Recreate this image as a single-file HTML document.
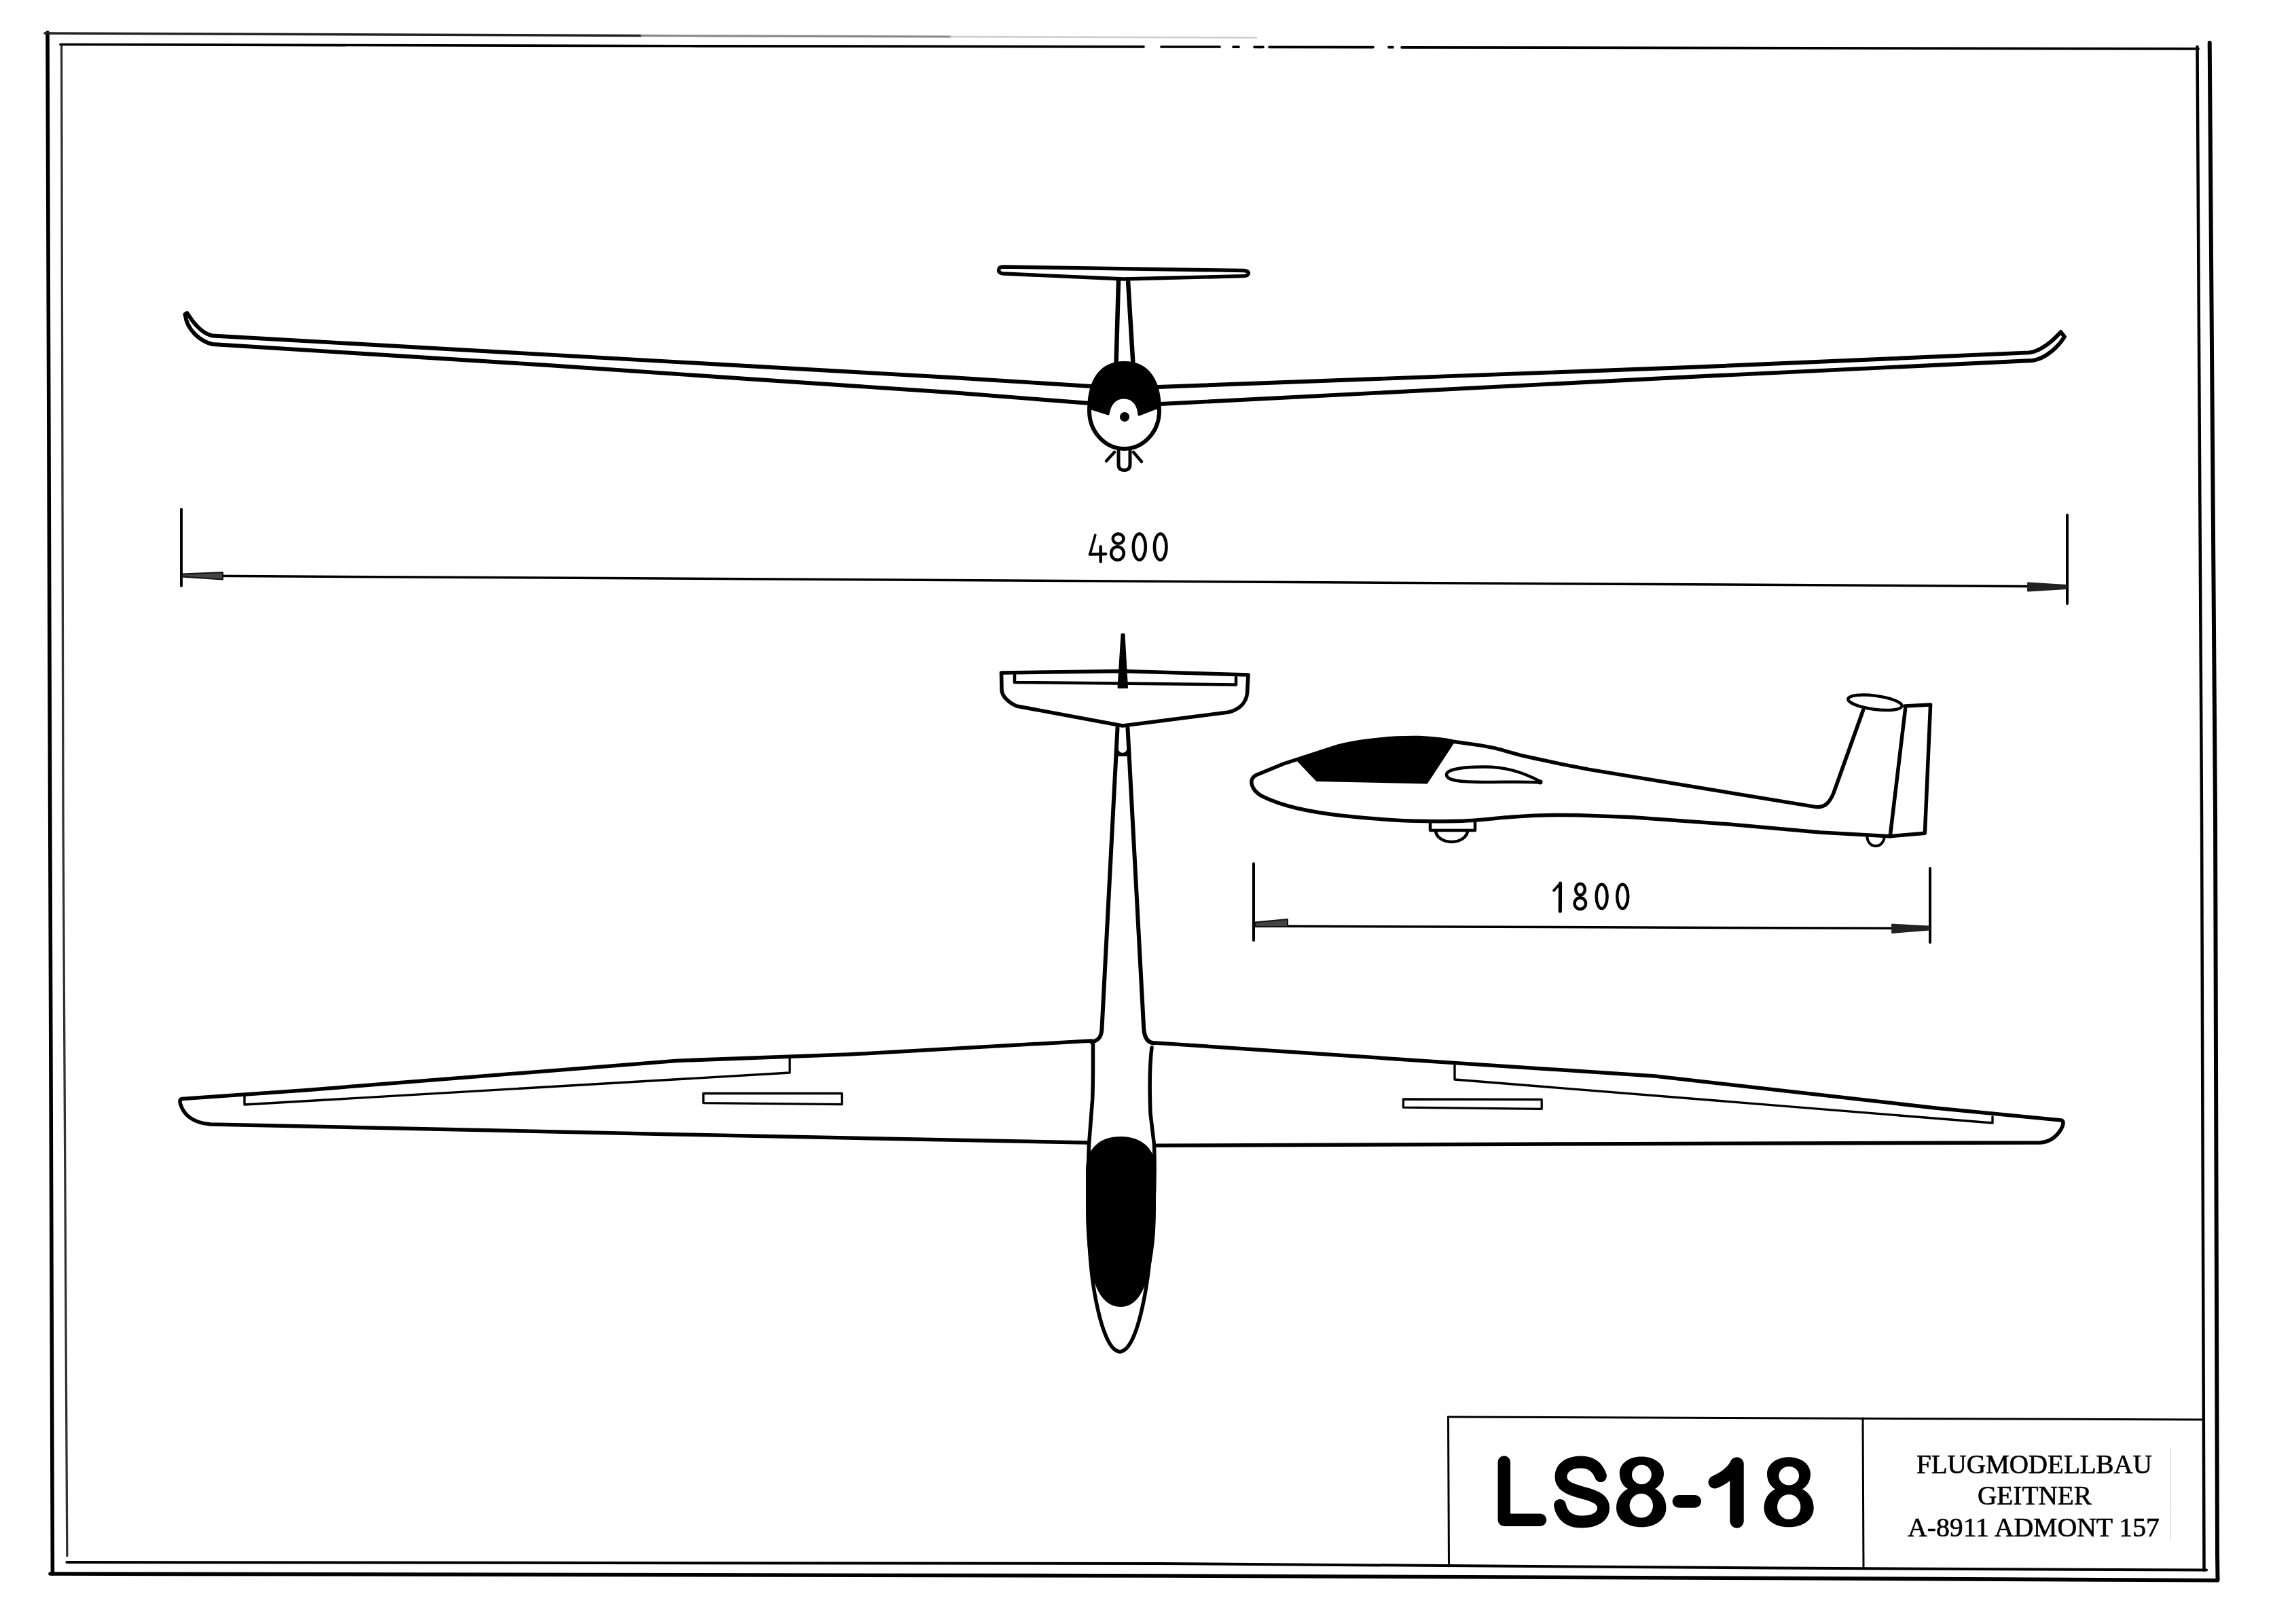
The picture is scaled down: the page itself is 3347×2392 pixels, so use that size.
<!DOCTYPE html>
<html>
<head>
<meta charset="utf-8">
<title>LS8-18</title>
<style>
html,body{margin:0;padding:0;background:#fff;}
body{width:3347px;height:2392px;overflow:hidden;}
svg{display:block;}
</style>
</head>
<body>
<svg width="3347" height="2392" viewBox="0 0 3347 2392">
<defs><filter id="gaa"><feOffset dx="0" dy="0"/></filter></defs>
<rect x="0" y="0" width="3347" height="2392" fill="#fff"/>
<g fill="none" stroke="#000" stroke-linejoin="round" stroke-linecap="round">

<!-- ===== FRAME ===== -->
<g id="frame">
<path d="M70,48 L73.7,1200 L77.4,2318" stroke-width="5.6"/>
<path d="M66,49 L945,52.4" stroke-width="3.5" stroke="#222"/>
<path d="M945,52.4 L1030,52.8 L1400,54" stroke-width="3.2" stroke="#888"/>
<path d="M1400,54 L1850,55.5" stroke-width="2.5" stroke="#ccc"/>
<path d="M3253.7,63 L3262,1200 L3265,2290 L3265.5,2326" stroke-width="6"/>
<path d="M74,2318 L1710,2321 L2610,2324.5 L3265.5,2327.7" stroke-width="5.6"/>
<path d="M90.6,66 L93,1200 L98.8,2291.5" stroke-width="3.3" stroke="#333"/>
<path d="M89,65.5 L1030,67.8 L1684,68.8 M1710,69 L1796,69 M1816,69.2 L1824,69.2 M1847,69.3 L1860,69.3 M1869,69.4 L2022,69.6 M2045,69.7 L2051,69.7 M2064,69.8 L3237,71.9" stroke-width="3.7"/>
<path d="M3235.5,69 L3242,1200 L3245.5,2312.6" stroke-width="4.5"/>
<path d="M98.4,2301 L1710,2303 L2610,2309.6 L3249,2312.6" stroke-width="4"/>
</g>

<!-- ===== TITLE BLOCK ===== -->
<g id="title">
<path d="M2132.5,2087 L2133.5,2307" stroke-width="3"/>
<path d="M2132.5,2087 L3245,2091" stroke-width="3"/>
<path d="M2743,2089 L2744,2309" stroke-width="3"/>
<path d="M3196,2133 L3196.2,2268" stroke-width="1.2" stroke="#d4d4d4" stroke-linecap="butt"/>
</g>

<!-- ===== FRONT VIEW ===== -->
<g id="front" stroke-width="5.5">
<!-- horizontal stabilizer -->
<path d="M1477,393 L1832,398.5 Q1839,399.5 1838.5,402.5 Q1838,406.3 1831,406.6 L1655,411 L1477,403 Q1470.5,402 1470.5,398 Q1471,393 1477,393 Z" stroke-width="5.4"/>
<!-- fin -->
<path d="M1647,413 L1643.5,537" stroke-width="6.5"/>
<path d="M1661,413 L1668.5,537" stroke-width="6.5"/>
<!-- left wing -->
<path d="M1607,569 L1400,556 L313,494.5 C300,492 288,481 275.5,461 L272.5,463 C275,486 295,503 313,507 L800,537.5 L1100,558 L1400,578 L1605,594" stroke-width="5.9"/>
<!-- right wing -->
<path d="M1705,570 L2500,540.5 L2988,519.4 C3005,517 3020,505 3034.5,489 L3040,496 C3030,512 3012,528 2993,531 L2500,554.5 L1709,595" stroke-width="5.9"/>
<!-- fuselage -->
<path d="M1604,605 C1604,560 1622,535 1655.5,535 C1689,535 1707,560 1707,605 A51.5 56 0 0 1 1604,605 Z" stroke-width="6"/>
<path d="M1604,605 C1604,560 1622,535 1655.5,535 C1689,535 1707,560 1707,605 L1703,601 L1677,611 C1676,598 1670,586 1655,586 C1640,586 1634,598 1632,610 L1607,602 Z" fill="#000" stroke-width="3"/>
<circle cx="1656" cy="614" r="7" fill="#000" stroke="none"/>
<!-- wheel -->
<path d="M1647,664 L1647,684 Q1647,692.5 1655.5,692.5 Q1664,692.5 1664,684 L1664,664" stroke-width="5"/>
<path d="M1641,666 L1629,679 M1669,666 L1681,680" stroke-width="4.5"/>
</g>

<!-- ===== DIMENSION 4800 ===== -->
<g id="dim1">
<path d="M267,750 L267,863" stroke-width="4"/>
<path d="M3044,758.5 L3044,889" stroke-width="4"/>
<path d="M267,848 L3044,864" stroke-width="3.5"/>
<path d="M268,845.5 L328,843 L328,853.5 L268,849.5 Z" fill="#444" stroke="#111" stroke-width="2"/>
<path d="M2986,858.5 L3043,862 L3043,867 L2986,870.5 Z" fill="#222" stroke="#222" stroke-width="1.8"/>
<g stroke-width="4.5">
<path d="M1612.8,788 L1604.9,816.5" stroke-width="3.6"/>
<path d="M1604.9,816.5 L1628.2,815.9 M1620.7,805.3 L1620.7,826.9"/>
<ellipse cx="1646.6" cy="793.5" rx="7.9" ry="7.3"/>
<ellipse cx="1645.5" cy="815" rx="9.3" ry="9.8"/>
<ellipse cx="1677.8" cy="805.5" rx="9" ry="19.3"/>
<ellipse cx="1708.7" cy="805.5" rx="8.8" ry="19.3"/>
</g>
</g>

<!-- ===== TOP VIEW ===== -->
<g id="top" stroke-width="5.5">
<!-- horizontal tail -->
<path d="M1474.5,991 L1652,988.5 L1838,994 L1836.5,1021 C1835,1035 1825,1045 1809,1049 L1653,1069 L1497,1040 C1485,1035 1475,1025 1475,1015.6 Z" stroke-width="5.6"/>
<path d="M1494,994 L1494,1005 L1820,1008.4 L1820,997.6" stroke-width="4.5"/>
<path d="M1652,934.5 L1655,934.5 L1659.5,1012.5 L1647,1012.5 Z" fill="#000" stroke-width="3"/>
<!-- boom -->
<path d="M1645.5,1072 L1622.5,1515 C1622,1528 1617,1533.5 1607,1534.5" stroke-width="6"/>
<path d="M1660.5,1072 L1684.2,1515 C1685,1528 1690,1535.5 1699,1536.5" stroke-width="6"/>
<path d="M1646,1098 L1646,1114 L1660,1114 L1660,1098 Q1660,1109 1653,1109 Q1646,1109 1646,1098 Z" fill="#000" stroke="none"/>
<!-- left wing -->
<path d="M1607,1533 L1250,1553 L995,1562.4 L450,1605.7 L268,1618.5 C265,1619 264,1622 266,1627 C270,1640 282,1654 310,1656 L1000,1671 L1601,1683"/>
<path d="M1163,1559 L1163,1580 L360,1627 L360,1615" stroke-width="3.4"/>
<path d="M1035.8,1610.3 L1239.6,1610.5 L1239.6,1626.7 L1035.8,1624.6 Z" stroke-width="3.3"/>
<!-- right wing -->
<path d="M1700,1536 L2050,1559.4 L2437,1585 L2850,1632 L3035,1650 C3040,1651 3038,1658 3035,1663 C3028,1675 3018,1682 3004,1683 L2400,1684.7 L1701,1687.3"/>
<path d="M2142,1569 L2142,1590 L2934,1654 L2934,1645" stroke-width="3.4"/>
<path d="M2066.4,1619 L2270.2,1619.5 L2270.2,1633.3 L2066.4,1631.2 Z" stroke-width="3.3"/>
<!-- fuselage -->
<path d="M1609.4,1537 C1609.6,1570 1609.6,1600 1608.6,1620 L1603.5,1686 C1600,1760 1602,1850 1612,1906 C1620,1950 1632,1990 1649,1991 C1666,1990 1678,1950 1686,1906 C1696,1850 1702,1760 1699.5,1686 L1694,1640 C1692.5,1600 1692.5,1570 1696,1543" stroke-width="5.5"/>
<path d="M1600,1725 C1600,1690 1622,1675 1650,1675 C1678,1675 1701,1690 1701,1725 L1701,1780 C1701,1830 1694,1870 1684,1895 C1676,1915 1664,1924 1650,1924 C1636,1924 1623,1915 1615,1895 C1606,1870 1600,1830 1600,1780 Z" fill="#000" stroke-width="2"/>
</g>

<!-- ===== SIDE VIEW ===== -->
<g id="side" stroke-width="5.5">
<!-- canopy -->
<path d="M1909.5,1118.5 L1970,1099.2 C1976,1097.5 1982,1096 1990,1094.7 C2000,1092.6 2010,1091 2030,1089.2 C2050,1087 2070,1086.3 2090,1086.6 C2118,1088 2130,1090 2141,1092 L2101,1153 L1939,1149.5 Z" fill="#000" stroke-width="3"/>
<!-- fuselage outline -->
<path d="M2743.5,1046 L2700,1168 C2694,1182 2688,1189.5 2674.4,1188.6 L2340,1133.4 L2300,1125.6 L2260,1117 L2240,1112.6 L2220,1107.1 C2210,1104 2205,1102.8 2200,1101.6 L2180,1097.9 L2140,1092.3 C2130,1090 2118,1088 2090,1086.6 C2070,1086.3 2050,1087 2030,1089.2 C2010,1091 2000,1092.6 1990,1094.7 C1982,1096 1976,1097.5 1970,1099.2 L1890,1125 L1850,1141.5 C1843,1145 1842,1151 1843.5,1156 C1845,1162 1850,1168 1858,1172.5 C1875,1181 1895,1187 1910,1190.5 C1930,1195 1950,1198.5 1975,1201.2 C2010,1205 2060,1209 2100,1209.6 C2140,1210 2160,1209.5 2180,1207.5 C2200,1205.5 2215,1204 2230,1203 C2250,1201.5 2265,1200.8 2290,1200.6 C2310,1200.5 2330,1200.8 2350,1201.8 L2400,1203.6 L2546,1214 L2680,1226 L2783,1231.7"/>
<!-- fin -->
<ellipse cx="2761" cy="1034.8" rx="40" ry="10" transform="rotate(7.5 2761 1034.8)" stroke-width="4.5"/>
<path d="M2805,1040 L2842.6,1038 L2834.4,1227.2 L2783,1231.7 M2805.6,1044 L2783.4,1230.2" stroke-width="5.5"/>
<!-- wing root airfoil -->
<path d="M2268,1151 C2240,1136 2215,1129.5 2185,1129.5 C2155,1129.5 2130,1133 2130,1141 C2130,1150 2150,1152 2185,1152 C2220,1152 2245,1151 2268,1152.5 Z" stroke-width="4.5"/>
<circle cx="2268" cy="1152" r="3.5" fill="#000" stroke="none"/>
<!-- main wheel -->
<path d="M2106,1211 L2106,1223 L2172,1223 L2172,1211" stroke-width="4.5"/>
<path d="M2114,1223 A23.5 17 0 0 0 2161,1223" stroke-width="4.5"/>
<!-- tail wheel -->
<path d="M2749.5,1232.5 A12.5 13.5 0 0 0 2774.5,1232.5" stroke-width="4"/>
</g>

<!-- ===== DIMENSION 1800 ===== -->
<g id="dim2">
<path d="M1846,1272 L1846,1385" stroke-width="4"/>
<path d="M2842,1279 L2842,1388" stroke-width="4"/>
<path d="M1846,1364 L2842,1367.5" stroke-width="3.5"/>
<path d="M1848,1358.5 L1896,1354 L1896,1365 L1848,1365 Z" fill="#444" stroke="#111" stroke-width="2"/>
<path d="M2786,1361.5 L2841,1364.5 L2841,1369.5 L2786,1374 Z" fill="#222" stroke="#222" stroke-width="1.8"/>
<g stroke-width="4.5">
<path d="M2288,1311.7 L2297.5,1301" stroke-width="3.6"/>
<path d="M2297.5,1301 L2297.3,1342" stroke-width="5.2"/>
<ellipse cx="2327" cy="1310" rx="6.8" ry="8.3"/>
<ellipse cx="2326.8" cy="1330.7" rx="8.3" ry="8.4"/>
<ellipse cx="2358.6" cy="1320.3" rx="8" ry="17.8"/>
<ellipse cx="2389.2" cy="1320.3" rx="8" ry="17.8"/>
</g>
</g>
</g>

<!-- ===== TEXT ===== -->
<g id="ls818" fill="none" stroke="#000" stroke-linecap="round" stroke-linejoin="round">
<path d="M2214.8,2153.5 L2214.8,2238.8 L2268,2238.8" stroke-width="18.5"/>
<path d="M2357,2174 C2352,2160 2342,2153.5 2328,2153.5 C2310,2153.5 2298.5,2162 2298.5,2175 C2298.5,2188 2310,2193 2328,2198 C2348,2203 2361,2208 2361,2221 C2361,2235 2347,2241.5 2329,2241.5 C2311,2241.5 2300,2233 2297,2217" stroke-width="18"/>
<path d="M2472,2211.3 L2495.7,2211.3" stroke-width="18.7"/>
<path d="M2557.5,2156.5 L2557.5,2240.5" stroke-width="20.5"/>
<path d="M2557,2157 C2549,2170 2537,2178 2525,2183" stroke-width="19"/>
<path d="M2417,2145.6 C2436,2145.6 2450,2156 2450,2170 C2450,2181 2444,2189 2437,2193 C2447,2198 2453.4,2208 2453.4,2221 C2453.4,2238 2438,2249.3 2417,2249.3 C2396,2249.3 2380,2238 2380,2221 C2380,2208 2387,2198 2397,2193 C2390,2189 2384.8,2181 2384.8,2170 C2384.8,2156 2398,2145.6 2417,2145.6 Z" fill="#000" stroke="none"/>
<ellipse cx="2417.4" cy="2172" rx="14.4" ry="14.3" fill="#fff" stroke="none"/>
<ellipse cx="2416.8" cy="2217.8" rx="17.2" ry="17.8" fill="#fff" stroke="none"/>
<path d="M2634,2146.3 C2652.5,2146.3 2666,2157 2666,2171 C2666,2182 2660.5,2189.5 2654,2193.5 C2664,2198.5 2670.7,2208 2670.7,2221 C2670.7,2238 2655.5,2249.3 2634,2249.3 C2612.5,2249.3 2597.5,2238 2597.5,2221 C2597.5,2208 2604,2198.5 2614,2193.5 C2607.5,2189.5 2602,2182 2602,2171 C2602,2157 2615.5,2146.3 2634,2146.3 Z" fill="#000" stroke="none"/>
<ellipse cx="2634.2" cy="2173.8" rx="14.85" ry="13.75" fill="#fff" stroke="none"/>
<ellipse cx="2634.2" cy="2219.5" rx="17.15" ry="18.3" fill="#fff" stroke="none"/>
</g>
<g font-family="'Liberation Serif', serif" font-size="40" fill="#000" stroke="#000" stroke-width="0.7" text-anchor="start" filter="url(#gaa)">
<text x="2822" y="2169.5" textLength="347" lengthAdjust="spacingAndGlyphs">FLUGMODELLBAU</text>
<text x="2912" y="2216" textLength="168" lengthAdjust="spacingAndGlyphs">GEITNER</text>
<text x="2809" y="2262.5" textLength="371" lengthAdjust="spacingAndGlyphs">A-8911 ADMONT 157</text>
</g>
</svg>
</body>
</html>
